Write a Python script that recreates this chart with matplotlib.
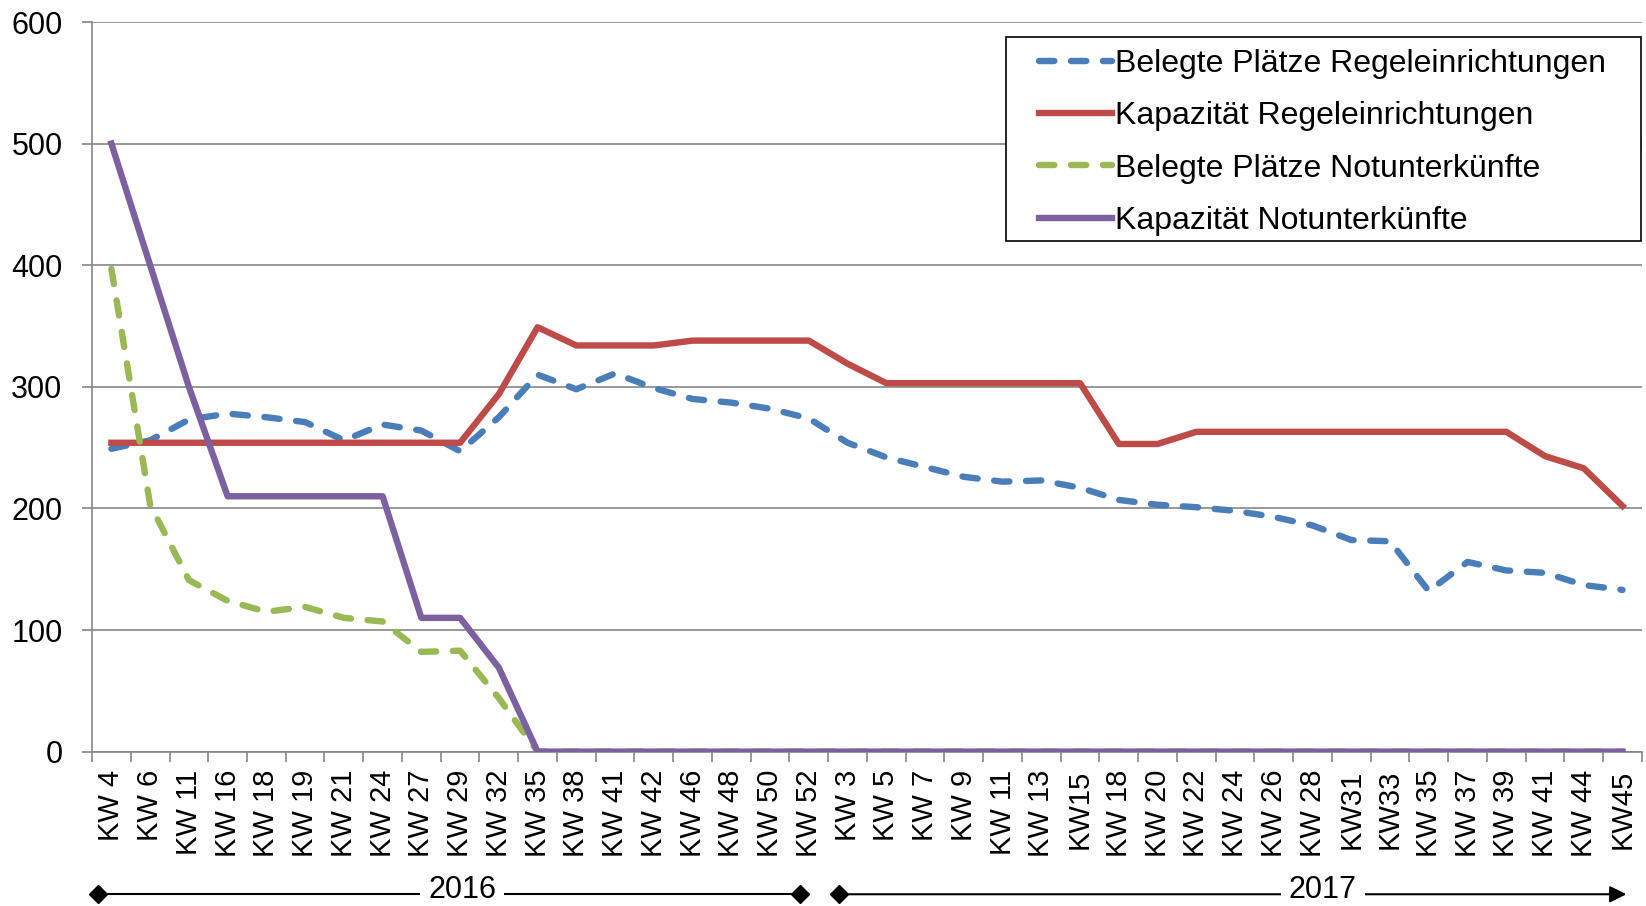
import matplotlib
matplotlib.use('Agg')
import matplotlib.pyplot as plt
from matplotlib.patches import Rectangle
from matplotlib.transforms import blended_transform_factory

plt.rcParams['font.family'] = ['Liberation Sans', 'DejaVu Sans']

# Kalenderwochen 2016 / 2017
weeks = ["KW 4", "KW 6", "KW 11", "KW 16", "KW 18", "KW 19", "KW 21", "KW 24",
         "KW 27", "KW 29", "KW 32", "KW 35", "KW 38", "KW 41", "KW 42", "KW 46",
         "KW 48", "KW 50", "KW 52",
         "KW 3", "KW 5", "KW 7", "KW 9", "KW 11", "KW 13", "KW15", "KW 18",
         "KW 20", "KW 22", "KW 24", "KW 26", "KW 28", "KW31", "KW33", "KW 35",
         "KW 37", "KW 39", "KW 41", "KW 44", "KW45"]

belegt_regel = [249, 256, 273, 278, 275, 271, 256, 269, 264, 247, 275, 310, 298,
                311, 299, 290, 287, 282, 274,
                254, 242, 234, 226, 222, 223, 217, 207, 203, 201, 198, 193, 186,
                174, 173, 132, 156, 149, 147, 137, 133]
kap_regel = [254, 254, 254, 254, 254, 254, 254, 254, 254, 254, 294, 349, 334,
             334, 334, 338, 338, 338, 338,
             319, 303, 303, 303, 303, 303, 303, 253, 253, 263, 263, 263, 263,
             263, 263, 263, 263, 263, 243, 233, 202]
belegt_not = [397, 203, 141, 124, 115, 119, 110, 107, 82, 83, 44, 0, 0,
              0, 0, 0, 0, 0, 0,
              0, 0, 0, 0, 0, 0, 0, 0, 0, 0, 0, 0, 0,
              0, 0, 0, 0, 0, 0, 0, 0]
kap_not = [500, 400, 300, 210, 210, 210, 210, 210, 110, 110, 69, 0, 0,
           0, 0, 0, 0, 0, 0,
           0, 0, 0, 0, 0, 0, 0, 0, 0, 0, 0, 0, 0,
           0, 0, 0, 0, 0, 0, 0, 0]

n_2016 = 19
x = list(range(len(weeks)))

fig = plt.figure(figsize=(16.46, 9.06), dpi=100)
ax = fig.add_axes([0.0559, 0.1704, 0.9416, 0.8053])

lw = 4.6
dash = (2.4, 2.6)
ax.plot(x, belegt_regel, color='#4A7EBB', lw=lw, dashes=dash,
        dash_capstyle='round', label='Belegte Plätze Regeleinrichtungen', zorder=3)
ax.plot(x, kap_regel, color='#BE4B48', lw=lw,
        label='Kapazität Regeleinrichtungen', zorder=4)
ax.plot(x, belegt_not, color='#98B954', lw=lw, dashes=dash,
        dash_capstyle='round', label='Belegte Plätze Notunterkünfte', zorder=5)
ax.plot(x, kap_not, color='#7D60A0', lw=lw,
        label='Kapazität Notunterkünfte', zorder=6)

ax.set_xlim(-0.5, len(weeks) - 0.5)
ax.set_ylim(0, 600)
ax.set_yticks(range(0, 601, 100))
ax.yaxis.grid(True, color='#868686', lw=1.2)
ax.set_axisbelow(True)

for side in ['top', 'right']:
    ax.spines[side].set_visible(False)
for side in ['left', 'bottom']:
    ax.spines[side].set_color('#868686')
    ax.spines[side].set_linewidth(1.2)

ax.set_xticks(x)
ax.set_xticklabels(weeks, rotation=90, fontsize=21)
ax.set_xticks([i - 0.5 for i in range(len(weeks) + 1)], minor=True)
ax.tick_params(axis='x', which='major', length=0, pad=13)
ax.tick_params(axis='x', which='minor', length=7, width=1.2, color='#868686')
ax.tick_params(axis='y', length=7.2, width=1.2, color='#868686', pad=14,
               labelsize=22)

# Jahresklammern unter der Achse
trans = blended_transform_factory(ax.transData, ax.transAxes)
yb = -0.1955
yt = -0.2005
box = dict(facecolor='white', edgecolor='none', pad=6)
ax.plot([-0.35, n_2016 - 1.22], [yb, yb], color='black', lw=1.5,
        marker='D', markersize=9, transform=trans, clip_on=False)
ax.text(9.05, yt, '2016', fontsize=22, ha='center', va='baseline',
        transform=trans, bbox=box)
ax.plot([n_2016 - 0.22], [yb], color='black', marker='D', markersize=9,
        transform=trans, clip_on=False)
ax.annotate('', xy=(39.1, yb), xytext=(n_2016 - 0.22, yb),
            xycoords=trans, textcoords=trans,
            arrowprops=dict(arrowstyle='-|>', color='black', lw=1.5,
                            mutation_scale=25, shrinkA=0, shrinkB=0))
ax.text(31.27, yt, '2017', fontsize=22, ha='center', va='baseline',
        transform=trans, bbox=box, zorder=5)

# Legendenrahmen
fig.patches.append(Rectangle((1006 / 1646, 1 - 241 / 906), 635 / 1646, 204 / 906,
                             transform=fig.transFigure, facecolor='white',
                             edgecolor='black', lw=1.2, zorder=2))
fig.legend(loc='upper left', bbox_to_anchor=(0.631, 0.946), frameon=False,
           fontsize=23, handlelength=2.3, handletextpad=0.1, borderpad=0,
           labelspacing=0.7, borderaxespad=0)

fig.savefig('out.png', dpi=100)
